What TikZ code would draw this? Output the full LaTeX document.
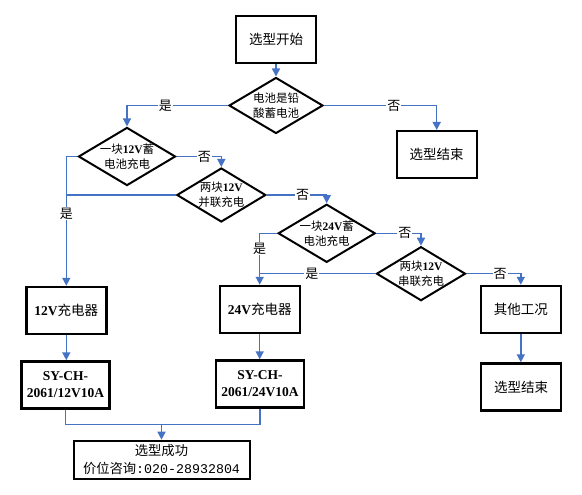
\documentclass[tikz,border=0pt]{standalone}
\usepackage{fontspec}
\setmainfont{Liberation Serif}
\newfontfamily\cjkfont{Noto Sans CJK SC}
\newfontfamily\monofont{Liberation Mono}
\usetikzlibrary{shapes.geometric,arrows.meta}
\definecolor{flowblue}{RGB}{68,114,196}
\newcommand{\zh}[1]{{\cjkfont\mdseries #1}}
\begin{document}
\begin{tikzpicture}[x=1pt, y=-1pt,
  box/.style={draw, line width=2.4pt, minimum width=80pt, minimum height=47pt, inner sep=0pt, align=center, font=\fontsize{13.5}{17}\selectfont\bfseries},
  dec/.style={diamond, draw, line width=2pt, aspect=1.67, minimum width=89pt, minimum height=54pt, inner sep=0pt, align=center, font=\fontsize{11.5}{15}\selectfont\bfseries},
  lab/.style={fill=white, inner sep=1pt, font=\fontsize{13}{13}\selectfont\cjkfont},
  line/.style={draw=flowblue, line width=1.5pt},
  flow/.style={line, -{Triangle[width=8pt,length=8pt]}}]
\useasboundingbox (0,0) rectangle (582,495);
\node[box] (b0) at (276,39.5){\zh{选型开始}};
\node[dec, minimum width=94pt, minimum height=56pt] (d0) at (276,105.5){\zh{电池是铅}\\\zh{酸蓄电池}};
\node[box] (b1) at (436.7,154.7){\zh{选型结束}};
\node[dec] (d1) at (127,156.5){\zh{一块}12V\zh{蓄}\\\zh{电池充电}};
\node[dec] (d2) at (221.3,195){\zh{两块}12V\\\zh{并联充电}};
\node[dec] (d3) at (326.7,233.3){\zh{一块}24V\zh{蓄}\\\zh{电池充电}};
\node[dec] (d4) at (421,273.7){\zh{两块}12V\\\zh{串联充电}};
\node[box] (b2) at (66.3,310.5){12V\zh{充电器}};
\node[box, minimum width=88pt] (b3) at (65.5,385){SY-CH-\\2061/12V10A};
\node[box] (b4) at (259.7,309.5){24V\zh{充电器}};
\node[box, minimum width=88pt] (b5) at (260,384){SY-CH-\\2061/24V10A};
\node[box] (b6) at (520.8,309.5){\zh{其他工况}};
\node[box] (b7) at (521,387){\zh{选型结束}};
\coordinate (j0) at (161.5,424.5);
\node[box, line width=2pt, minimum width=176pt, minimum height=38pt, font=\fontsize{13.3}{18.3}\selectfont] (b8) at (161.5,459.7){\zh{选型成功}\\\zh{价位咨询}{\monofont :020-28932804}};
\draw[flow] (b0) -- (d0);
\draw[flow] (d0.west) -| node[lab, pos=0.31]{是} (d1.north);
\draw[flow] (d0.east) -| node[lab, pos=0.31]{否} (b1.north);
\draw[flow] (d1.west) -| node[lab, pos=0.72]{是} (b2.north);
\draw[flow] (d1.east) -| node[lab, pos=0.31]{否} (d2.north);
\draw[line] (d2.west) -- (d2.west -| b2.north);
\draw[flow] (d2.east) -| node[lab, pos=0.3]{否} (d3.north);
\draw[flow] (d3.west) -| node[lab, pos=0.65]{是} (b4.north);
\draw[flow] (d3.east) -| node[lab, pos=0.32]{否} (d4.north);
\draw[line] (d4.west) -- node[lab, pos=0.55]{是} (d4.west -| b4.north);
\draw[flow] (d4.east) -| node[lab, pos=0.31]{否} (b6.north);
\draw[flow] (b2.south) -- (b2.south |- b3.north);
\draw[flow] (b4.south) -- (b4.south |- b5.north);
\draw[flow] (b6.south) -- (b6.south |- b7.north);
\draw[line] (b3.south) |- (j0);
\draw[line] (b5.south) |- (j0);
\draw[flow] (j0) -- (b8.north);
\end{tikzpicture}
\end{document}
